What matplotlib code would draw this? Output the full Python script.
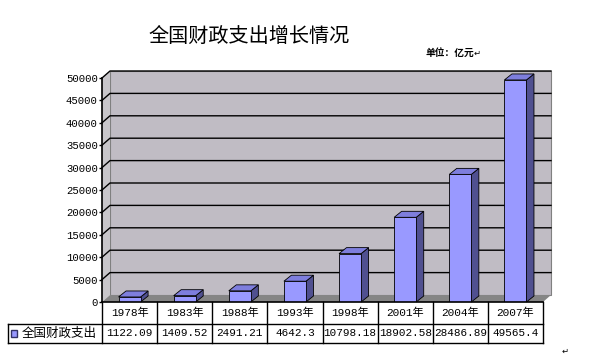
import numpy as np
import matplotlib.pyplot as plt
from matplotlib.patches import Polygon, Rectangle
from matplotlib.transforms import blended_transform_factory

plt.rcParams['font.family'] = ['Noto Sans CJK SC', 'DejaVu Sans']

# 数据
years = ['1978年', '1983年', '1988年', '1993年', '1998年', '2001年', '2004年', '2007年']
spending = [1122.09, 1409.52, 2491.21, 4642.3, 10798.18, 18902.58, 28486.89, 49565.4]
spending_text = ['1122.09', '1409.52', '2491.21', '4642.3', '10798.18', '18902.58', '28486.89', '49565.4']
series_name = '全国财政支出'
yticks = np.arange(0, 50001, 5000)

fig = plt.figure(figsize=(6, 3.61), dpi=100)
W, H = 600, 361
ax = fig.add_axes([102 / W, 1 - 302 / H, 441 / W, 224 / H])
n = len(years)
ax.set_xlim(-0.5, n - 0.5)
ax.set_ylim(0, 50000)

# profundidade 3D (em pixels -> unidades de dados)
px_x = (n) / 441.0
px_y = 50000 / 224.0
dx, dy = 8 * px_x, 7 * px_y
bdx, bdy = 7.5 * px_x, 6 * px_y

x0, x1 = -0.5, n - 0.5
wall_col = '#C0BCC4'

# parede do fundo
ax.add_patch(Rectangle((x0 + dx, dy), x1 - x0, 50000, facecolor=wall_col,
                       edgecolor='#808080', lw=0.8, clip_on=False, zorder=1))
# parede lateral
ax.add_patch(Polygon([(x0, 0), (x0 + dx, dy), (x0 + dx, 50000 + dy), (x0, 50000)],
                     closed=True, facecolor='#C8C6CA', edgecolor='none',
                     clip_on=False, zorder=1))
# linhas de grade
for t in yticks[1:]:
    ax.plot([x0, x0 + dx, x1 + dx], [t, t + dy, t + dy], color='black', lw=1,
            clip_on=False, zorder=2)
# chao
ax.add_patch(Polygon([(x0, 0), (x1, 0), (x1 + dx, dy), (x0 + dx, dy)], closed=True,
                     facecolor='#858585', edgecolor='none', clip_on=False, zorder=2))

# barras
w = 0.4
xs = np.arange(n)
ax.bar(xs, spending, width=w, color='#9999FF', edgecolor='black', lw=0.6, zorder=5)
for xi, v in zip(xs, spending):
    r = xi + w / 2
    l = xi - w / 2
    ax.add_patch(Polygon([(r, 0), (r + bdx, bdy), (r + bdx, v + bdy), (r, v)], closed=True,
                         facecolor='#505090', edgecolor='black', lw=0.6, zorder=4,
                         clip_on=False))
    ax.add_patch(Polygon([(l, v), (r, v), (r + bdx, v + bdy), (l + bdx, v + bdy)], closed=True,
                         facecolor='#7E7EDD', edgecolor='black', lw=0.6, zorder=4,
                         clip_on=False))

# eixo
for s in ['top', 'right', 'bottom']:
    ax.spines[s].set_visible(False)
ax.spines['left'].set_linewidth(1.2)
ax.spines['left'].set_zorder(6)
ax.set_xticks([])
ax.set_yticks(yticks)
ax.set_yticklabels([str(t) for t in yticks], family=['Liberation Mono', 'DejaVu Sans'],
                   fontsize=7.7)
ax.tick_params(axis='y', length=2, width=1, pad=1)
ax.set_facecolor('none')

# tabela de dados
tr = blended_transform_factory(ax.transData, ax.transAxes)
r1 = -22 / 224
r2 = -41 / 224
leg_left = x0 - 94 * px_x
ax.plot([x0, x1], [0, 0], color='black', lw=1.2, transform=tr, clip_on=False, zorder=6)
ax.plot([leg_left, x1], [r1, r1], color='black', lw=1, transform=tr, clip_on=False)
ax.plot([leg_left, x1], [r2, r2], color='black', lw=1, transform=tr, clip_on=False)
for b in np.arange(n + 1) - 0.5:
    ax.plot([b, b], [0, r2], color='black', lw=1, transform=tr, clip_on=False)
ax.plot([leg_left, leg_left], [r1, r2], color='black', lw=1, transform=tr, clip_on=False)

for xi, yr, txt in zip(xs, years, spending_text):
    ax.text(xi, (0 + r1) / 2, yr, transform=tr, ha='center', va='center',
            fontsize=8, family=['Liberation Mono', 'Noto Sans CJK SC'])
    ax.text(xi, (r1 + r2) / 2, txt, transform=tr, ha='center', va='center',
            fontsize=7.9, family=['Liberation Mono', 'Noto Sans CJK SC'])

# legenda
ax.add_patch(Rectangle((leg_left + 2.5 * px_x, (r1 + r2) / 2 - 0.016), 6.5 * px_x, 0.032,
                       facecolor='#9999FF', edgecolor='#333366', lw=1, transform=tr,
                       clip_on=False))
ax.text(leg_left + 14 * px_x, (r1 + r2) / 2, series_name, transform=tr, ha='left',
        va='center', fontsize=9)

# titulos
fig.text(249 / W, 1 - 36 / H, '全国财政支出增长情况', ha='center', va='center', fontsize=14.5,
         fontweight='light')
fig.text(426 / W, 1 - 52.5 / H, '单位：亿元', ha='left', va='center', fontsize=7,
         fontweight='bold')
fig.text(474 / W, 1 - 53 / H, '↵', ha='left', va='center', fontsize=6,
         family=['DejaVu Sans'])
fig.text(562 / W, 1 - 351 / H, '↵', ha='left', va='center', fontsize=6,
         family=['DejaVu Sans'])

fig.savefig('out.png', dpi=100)
